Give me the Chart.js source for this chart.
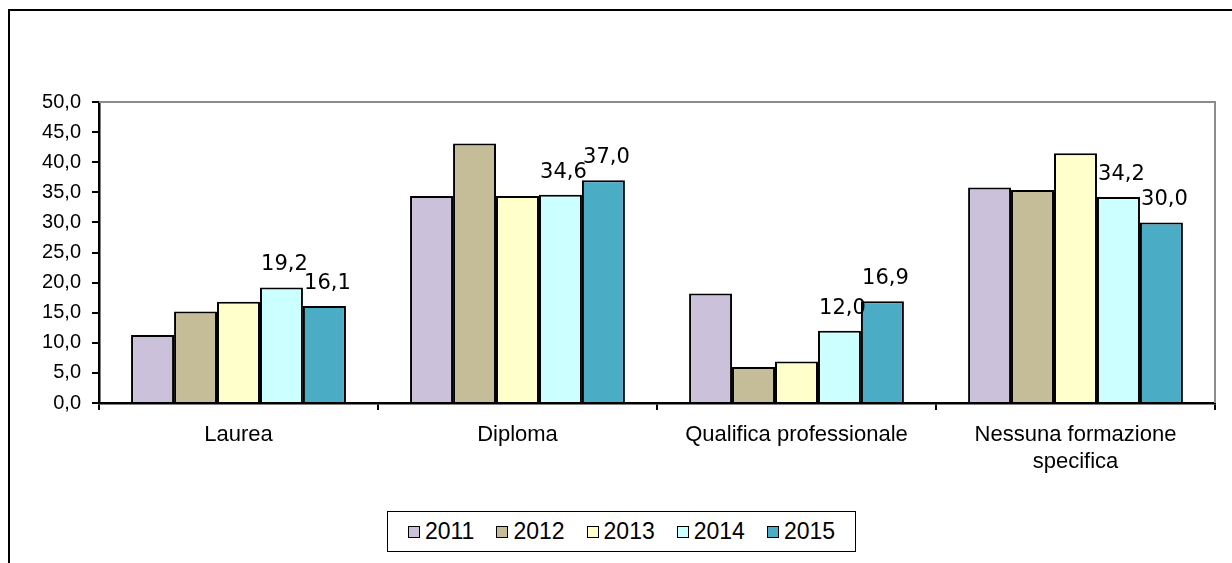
<!DOCTYPE html>
<html>
<head>
<meta charset="utf-8">
<script src="https://cdn.jsdelivr.net/npm/chart.js@4"></script>
<style>
  html, body { margin: 0; padding: 0; background: #fff; }
  #wrap { position: relative; width: 1232px; height: 563px; overflow: hidden; }
  #frame { position: absolute; left: 8px; top: 9px; width: 1300px; height: 600px;
           border-top: 2px solid #000; border-left: 2px solid #000; }
  #barChart { position: absolute; left: 0; top: 0; }
  #legend { position: absolute; left: 387px; top: 511px; width: 467px; height: 39px;
            border: 1px solid #000; background: #fff; display: flex; align-items: center;
            justify-content: center; font: 23px "Liberation Sans", Arial, sans-serif; color: #000; }
  .item { display: flex; align-items: center; margin: 0 11px; }
  .box { width: 10px; height: 10px; border: 1px solid #000; margin-right: 5px; }
</style>
</head>
<body>
<div id="wrap">
  <div id="frame"></div>
  <canvas id="barChart" width="1232" height="563"></canvas>
  <div id="legend"></div>
</div>
<script>
// values
const categories = ["Laurea", "Diploma", "Qualifica professionale", ["Nessuna formazione", "specifica"]];
const years = ["2011", "2012", "2013", "2014", "2015"];
const values2011 = [11.3, 34.4, 18.2, 35.8];
const values2012 = [15.2, 43.1, 6.0, 35.4];
const values2013 = [16.8, 34.4, 6.9, 41.5];
const values2014 = [19.2, 34.6, 12.0, 34.2];
const values2015 = [16.1, 37.0, 16.9, 30.0];
const yTicks = [0, 5, 10, 15, 20, 25, 30, 35, 40, 45, 50];
const labelledYears = ["2014", "2015"];

const colors = ["#CCC1DA", "#C4BD97", "#FFFFCC", "#CCFFFF", "#4BACC6"];
const allValues = [values2011, values2012, values2013, values2014, values2015];
const fontFamily = '"Liberation Sans", Arial, sans-serif';

const fmt = (v) => v.toFixed(1).replace(".", ",");

// grey border on top and right of the plot area
const plotBorder = {
  id: "plotBorder",
  beforeDatasetsDraw(chart) {
    const { ctx, chartArea: a } = chart;
    ctx.save();
    ctx.strokeStyle = "#8c8c8c";
    ctx.lineWidth = 2;
    ctx.beginPath();
    ctx.moveTo(a.left, a.top);
    ctx.lineTo(a.right, a.top);
    ctx.lineTo(a.right, a.bottom);
    ctx.stroke();
    ctx.restore();
  },
};

// value labels over the 2014 and 2015 bars
const valueLabels = {
  id: "valueLabels",
  afterDatasetsDraw(chart) {
    const { ctx } = chart;
    ctx.save();
    ctx.font = '21px "DejaVu Sans", sans-serif';
    ctx.fillStyle = "#000";
    ctx.textAlign = "center";
    ctx.textBaseline = "alphabetic";
    chart.data.datasets.forEach((ds, i) => {
      if (!labelledYears.includes(ds.label)) return;
      chart.getDatasetMeta(i).data.forEach((bar, j) => {
        ctx.fillText(fmt(ds.data[j]), bar.x + 3, bar.y - 17);
      });
    });
    ctx.restore();
  },
};

const datasets = years.map((year, i) => ({
  label: year,
  data: allValues[i],
  backgroundColor: colors[i],
  borderColor: "#000",
  borderWidth: 2,
  categoryPercentage: 0.77,
  barPercentage: 1,
}));

new Chart(document.getElementById("barChart"), {
  type: "bar",
  data: { labels: categories, datasets },
  options: {
    responsive: false,
    animation: false,
    layout: { padding: { left: 0, right: 17, top: 102, bottom: 0 } },
    plugins: { legend: { display: false }, tooltip: { enabled: false } },
    scales: {
      x: {
        grid: { offset: true, drawOnChartArea: false, drawTicks: true, tickLength: 7, color: "#000", lineWidth: 2 },
        border: { color: "#000", width: 2.5 },
        ticks: { color: "#000", padding: 12, maxRotation: 0, autoSkip: false,
                 font: { family: fontFamily, size: 22, lineHeight: 1.2 } },
        afterFit: (scale) => { scale.height = 160; },
      },
      y: {
        min: 0,
        max: 50,
        afterBuildTicks: (scale) => { scale.ticks = yTicks.map((v) => ({ value: v })); },
        grid: { drawOnChartArea: false, drawTicks: true, tickLength: 7, color: "#000", lineWidth: 2 },
        border: { color: "#000", width: 2.5 },
        ticks: { color: "#000", padding: 11, callback: (v) => fmt(v),
                 font: { family: fontFamily, size: 20 } },
        afterFit: (scale) => { scale.width = 99; },
      },
    },
  },
  plugins: [plotBorder, valueLabels],
});

// legend
const legend = document.getElementById("legend");
years.forEach((year, i) => {
  const item = document.createElement("div");
  item.className = "item";
  item.innerHTML = `<span class="box" style="background:${colors[i]}"></span><span>${year}</span>`;
  legend.appendChild(item);
});
</script>
</body>
</html>
